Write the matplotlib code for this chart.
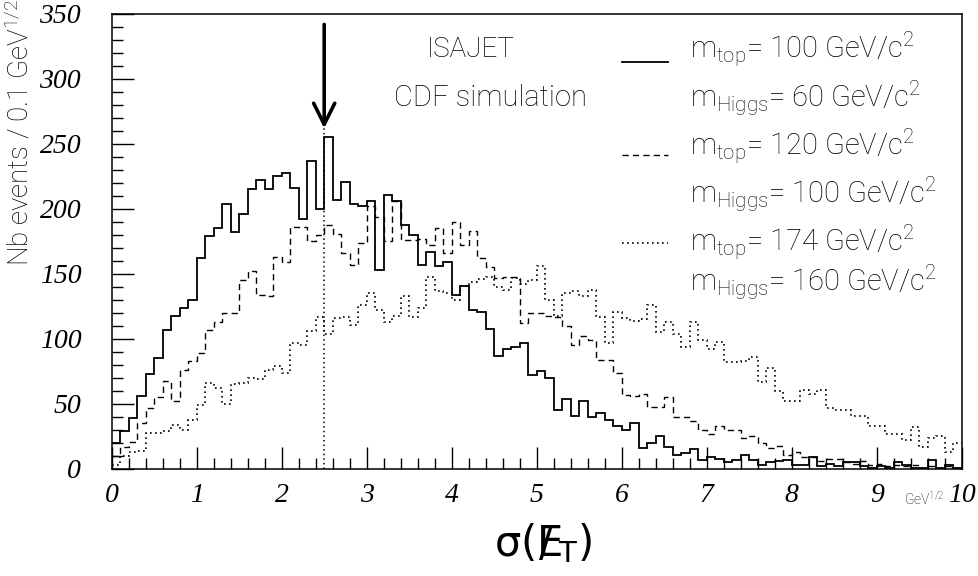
import matplotlib
matplotlib.use("Agg")
import matplotlib.pyplot as plt
from matplotlib.ticker import MultipleLocator
import numpy as np

# histogramme 100 bins de 0 a 10 (GeV^1/2)
bin_edges = np.linspace(0, 10, 101)

# m_top = 100, m_Higgs = 60 (trait plein)
h_top100 = [20, 29, 39, 56, 73, 85, 107, 118, 124, 130,
            162, 179, 185, 204, 182, 196, 215, 222, 215, 225,
            228, 216, 192, 237, 200, 255, 207, 221, 204, 202,
            206, 153, 211, 206, 188, 180, 157, 167, 156, 159,
            134, 141, 122, 121, 108, 87, 92, 94, 97, 72,
            75, 70, 45, 54, 41, 52, 40, 43, 38, 33,
            30, 35, 16, 20, 25, 17, 11, 12, 15, 7,
            9, 8, 5, 7, 11, 7, 3, 5, 6, 7,
            3, 3, 9, 2, 4, 2, 5, 5, 2, 1,
            2, 1, 5, 3, 1, 1, 7, 1, 3, 1]

# m_top = 120, m_Higgs = 100 (tirets)
h_top120 = [10, 17, 21, 35, 47, 55, 68, 52, 76, 83,
            89, 107, 113, 120, 120, 145, 152, 134, 133, 163,
            159, 186, 186, 175, 180, 188, 181, 166, 157, 174,
            202, 194, 175, 206, 176, 176, 177, 172, 185, 166,
            190, 172, 183, 162, 155, 147, 148, 148, 112, 120,
            120, 118, 117, 110, 95, 102, 99, 84, 84, 74,
            57, 56, 58, 48, 48, 55, 40, 40, 37, 30,
            27, 33, 30, 30, 24, 25, 20, 16, 18, 11,
            13, 9, 9, 6, 8, 8, 5, 4, 6, 3,
            4, 2, 3, 2, 3, 1, 2, 1, 2, 1]

# m_top = 174, m_Higgs = 160 (pointilles)
h_top174 = [3, 10, 13, 14, 28, 28, 29, 34, 30, 38,
            49, 66, 62, 50, 65, 66, 70, 69, 76, 79,
            74, 97, 95, 106, 117, 104, 116, 117, 111, 126,
            135, 122, 113, 118, 133, 117, 124, 148, 137, 135,
            130, 141, 144, 146, 148, 140, 138, 147, 142, 145,
            156, 130, 118, 135, 137, 133, 138, 117, 97, 121,
            116, 114, 115, 126, 105, 113, 104, 94, 113, 99,
            92, 98, 82, 82, 83, 86, 67, 78, 60, 52,
            52, 61, 58, 61, 47, 45, 45, 41, 41, 33,
            33, 27, 27, 22, 32, 17, 24, 25, 13, 20]

cut_value = 2.5
cut_height = 262
arrow_top = 342

legend_rows = [r"m$_{top}$= 100 GeV/c$^{2}$",
               r"m$_{Higgs}$= 60 GeV/c$^{2}$",
               r"m$_{top}$= 120 GeV/c$^{2}$",
               r"m$_{Higgs}$= 100 GeV/c$^{2}$",
               r"m$_{top}$= 174 GeV/c$^{2}$",
               r"m$_{Higgs}$= 160 GeV/c$^{2}$"]

plt.rcParams["font.family"] = ["Roboto", "DejaVu Sans"]
plt.rcParams["mathtext.fontset"] = "custom"
plt.rcParams["mathtext.rm"] = "Roboto:light"
plt.rcParams["mathtext.it"] = "Roboto:light"
plt.rcParams["mathtext.sf"] = "DejaVu Sans"
plt.rcParams["mathtext.default"] = "rm"

fig = plt.figure(figsize=(9.79, 5.76), dpi=100)
ax = fig.add_axes([0.1141, 0.1858, 0.8682, 0.7899])

dash = (0, (4.5, 3.0))
dots = (0, (1.0, 2.0))
ax.stairs(h_top100, bin_edges, color="black", lw=1.3, baseline=None)
ax.stairs(h_top120, bin_edges, color="black", lw=1.0, ls=dash, baseline=None)
ax.stairs(h_top174, bin_edges, color="black", lw=1.2, ls=dots, baseline=None)

# coupure + fleche
ax.plot([cut_value, cut_value], [0, cut_height], color="black", lw=1.1, ls=dots)
ax.annotate("", xy=(cut_value, cut_height), xytext=(cut_value, arrow_top),
            arrowprops=dict(arrowstyle="->", lw=2.6, color="black",
                            mutation_scale=38, shrinkA=0, shrinkB=0))

ax.set_xlim(0, 10)
ax.set_ylim(0, 350)
ax.xaxis.set_major_locator(MultipleLocator(1))
ax.xaxis.set_minor_locator(MultipleLocator(0.2))
ax.yaxis.set_major_locator(MultipleLocator(50))
ax.yaxis.set_minor_locator(MultipleLocator(10))
ax.tick_params(which="both", direction="in", top=False, right=False, width=1.0)
ax.tick_params(which="major", length=16)
ax.tick_params(which="minor", length=8)
ax.tick_params(axis="y", pad=22)
ax.tick_params(axis="x", pad=10)
for lab in ax.get_xticklabels() + ax.get_yticklabels():
    lab.set_fontfamily("Liberation Serif")
    lab.set_fontstyle("italic")
    lab.set_fontsize(20)
for sp in ax.spines.values():
    sp.set_linewidth(1.1)

# legende a la main
ax.text(0.4227, 0.922, "ISAJET", transform=ax.transAxes, ha="center", va="center",
        fontsize=20, fontweight="light")
ax.text(0.446, 0.815, "CDF simulation", transform=ax.transAxes, ha="center", va="center",
        fontsize=21, fontweight="light")
row_y = [0.922, 0.815, 0.709, 0.604, 0.498, 0.410]
for lab, yy in zip(legend_rows, row_y):
    ax.text(0.680, yy, lab, transform=ax.transAxes, ha="left", va="center",
            fontsize=21, fontweight="light")
sample_styles = [("-", 1.3, 0.8945), (dash, 1.0, 0.690), (dots, 1.2, 0.4967)]
for st, lw, yy in sample_styles:
    ax.plot([0.600, 0.6545], [yy, yy], transform=ax.transAxes, color="black", lw=lw, ls=st)

fig.text(20 / 979, 1 - 133 / 576, r"Nb events / 0.1 GeV$^{1/2}$", rotation=90,
         ha="center", va="center", fontsize=20, fontweight="light")
fig.text(945 / 979, 1 - 499 / 576, r"GeV$^{1/2}$", ha="right", va="center",
         fontsize=10, fontweight="light")
fig.text(543 / 979, 1 - 543 / 576, r"$\mathsf{\sigma(E\!\!\!\!/\,{}_{T})}$", ha="center", va="center",
         fontsize=30)

fig.savefig("out.png", dpi=100)
